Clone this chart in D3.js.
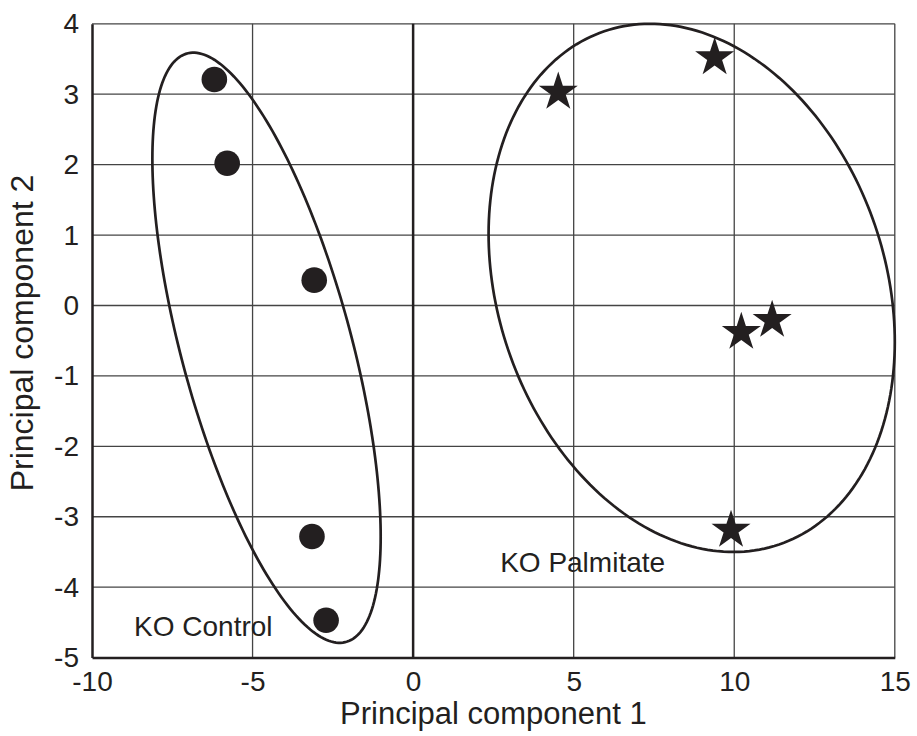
<!DOCTYPE html>
<html>
<head>
<meta charset="utf-8">
<script src="https://cdn.jsdelivr.net/npm/d3@7"></script>
<style>
  body { margin: 0; background: #fff; }
  text { font-family: "Liberation Sans", Arial, sans-serif; fill: #231f20; }
</style>
</head>
<body>
<svg id="chart" width="917" height="736"></svg>
<script>
// control group (circles)
var controlX = [-6.19, -5.79, -3.08, -3.15, -2.71];
var controlY = [3.21, 2.02, 0.36, -3.28, -4.47];
// palmitate group (stars)
var palmX = [4.52, 9.39, 11.18, 10.22, 9.90];
var palmY = [3.03, 3.52, -0.21, -0.38, -3.19];

// group ellipses: bounding box in data units + x of the topmost point
var ellipseNames = ["KO Control", "KO Palmitate"];
var ellipseXMin = [-8.12, 2.35];
var ellipseXMax = [-1.01, 15.0];
var ellipseYMin = [-4.79, -3.50];
var ellipseYMax = [3.59, 4.0];
var ellipseXAtTop = [-6.84, 7.38];

// label anchors (data units)
var labelX = [-8.69, 2.71];
var labelY = [-4.69, -3.79];

var xTicks = [-10, -5, 0, 5, 10, 15];
var yTicks = [-5, -4, -3, -2, -1, 0, 1, 2, 3, 4];

var ink = "#231f20";
var svg = d3.select("#chart");

var x = d3.scaleLinear().domain([-10, 15]).range([92, 894.8]);
var y = d3.scaleLinear().domain([-5, 4]).range([657.6, 23.8]);

// grid
var grid = svg.append("g");
grid.selectAll(".vg").data(xTicks.filter(function(d) { return d != -10 && d != 0; }))
  .enter().append("line")
  .attr("x1", function(d) { return x(d); }).attr("x2", function(d) { return x(d); })
  .attr("y1", y(-5)).attr("y2", y(4))
  .attr("stroke", "#444").attr("stroke-width", 1.3);
grid.selectAll(".hg").data(yTicks.filter(function(d) { return d != -5; }))
  .enter().append("line")
  .attr("x1", x(-10)).attr("x2", x(15))
  .attr("y1", function(d) { return y(d); }).attr("y2", function(d) { return y(d); })
  .attr("stroke", "#444").attr("stroke-width", 1.3);

// zero line
svg.append("line")
  .attr("x1", x(0)).attr("x2", x(0)).attr("y1", y(-5)).attr("y2", y(4))
  .attr("stroke", ink).attr("stroke-width", 2.5);

// axes (plain hyphen for negatives, like the original)
var fmt = function(d) { return String(d); };
var xAxis = svg.append("g").attr("transform", "translate(0," + y(-5) + ")")
  .call(d3.axisBottom(x).tickValues(xTicks).tickFormat(fmt).tickSize(0).tickPadding(13.5));
var yAxis = svg.append("g").attr("transform", "translate(" + x(-10) + ",0)")
  .call(d3.axisLeft(y).tickValues(yTicks).tickFormat(fmt).tickSize(0).tickPadding(13));
[xAxis, yAxis].forEach(function(a) {
  a.select(".domain").attr("stroke", ink).attr("stroke-width", 2.5);
  a.selectAll("text").attr("font-size", 28).attr("fill", ink)
    .style("font-family", "'Liberation Sans', Arial, sans-serif");
});

// axis titles
svg.append("text").attr("x", (x(-10) + x(15)) / 2).attr("y", 724)
  .attr("text-anchor", "middle").attr("font-size", 31).text("Principal component 1");
svg.append("text").attr("transform", "translate(33,333) rotate(-90)")
  .attr("text-anchor", "middle").attr("font-size", 32).text("Principal component 2");

// ellipses
var line = d3.line().curve(d3.curveLinearClosed);
ellipseNames.forEach(function(name, i) {
  var x0 = x(ellipseXMin[i]), x1 = x(ellipseXMax[i]);
  var yT = y(ellipseYMax[i]), yB = y(ellipseYMin[i]);
  var cx = (x0 + x1) / 2, cy = (yT + yB) / 2;
  var W = (x1 - x0) / 2, H = (yB - yT) / 2;
  var C = -(x(ellipseXAtTop[i]) - cx) * H;
  var k = C / W, s = Math.sqrt(H * H - k * k);
  var pts = d3.range(0, 240).map(function(j) {
    var t = j / 240 * 2 * Math.PI;
    return [cx + W * Math.cos(t), cy + k * Math.cos(t) + s * Math.sin(t)];
  });
  svg.append("path").attr("d", line(pts))
    .attr("fill", "none").attr("stroke", ink).attr("stroke-width", 2.7);
});

// markers
svg.selectAll(".ctl").data(controlX).enter().append("circle")
  .attr("cx", function(d) { return x(d); })
  .attr("cy", function(d, i) { return y(controlY[i]); })
  .attr("r", 12.8).attr("fill", ink);

var star = d3.symbol().type(d3.symbolStar).size(472);
svg.selectAll(".pal").data(palmX).enter().append("path")
  .attr("d", star)
  .attr("transform", function(d, i) { return "translate(" + x(d) + "," + y(palmY[i]) + ")"; })
  .attr("fill", ink);

// group labels
svg.selectAll(".lab").data(ellipseNames).enter().append("text")
  .attr("x", function(d, i) { return x(labelX[i]); })
  .attr("y", function(d, i) { return y(labelY[i]); })
  .attr("font-size", 28).text(function(d) { return d; });
</script>
</body>
</html>
